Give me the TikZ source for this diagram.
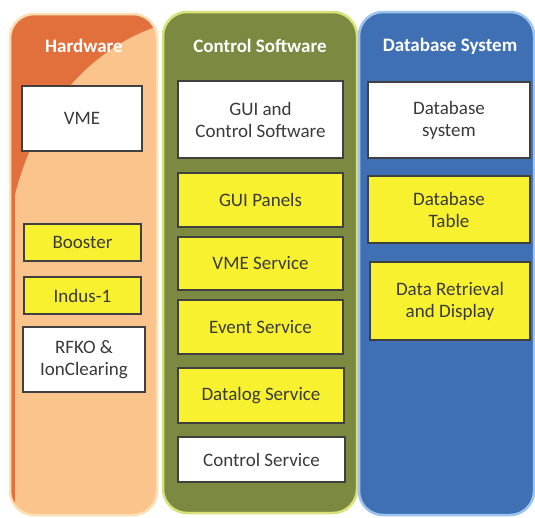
\documentclass[tikz,border=0pt]{standalone}
\usepackage{fontspec}
\setmainfont{Carlito}
\definecolor{hwdark}{HTML}{E2703C}
\definecolor{hwlight}{HTML}{FBC48C}
\definecolor{hwedge}{HTML}{FCE0B4}
\definecolor{csfill}{HTML}{7B8A40}
\definecolor{csedge}{HTML}{D9E27A}
\definecolor{dbfill}{HTML}{4070B4}
\definecolor{dbedge}{HTML}{9CC4EE}
\definecolor{boxyellow}{HTML}{F7F130}
\definecolor{boxtext}{HTML}{3A3A3A}

\begin{document}
\begin{tikzpicture}[x=1pt, y=-1pt,
        colpanel/.style=
            {
                rounded corners = 24pt,
                line width = 2.5pt
            },
        header/.style=
            {
                text = white,
                font = \fontsize{19}{22}\selectfont\bfseries
            },
        whitebox/.style=
            {
                rectangle,
                draw = black!75,
                line width = 1.2pt,
                fill = white,
                text = boxtext,
                inner sep = 0pt,
                align = center,
                font = \fontsize{19}{22}\selectfont
            },
        yellowbox/.style=
            {
                whitebox,
                fill = boxyellow
            }
    ]

    \useasboundingbox (0,0) rectangle (535,517);
    \fill[white] (0,0) rectangle (535,517);

    % hardware column
    \fill[hwdark, colpanel] (10,14) rectangle (157,515);
    \begin{scope}[rounded corners = 24pt]
        \clip (10,14) rectangle (157,515);
        \fill[hwlight, sharp corners] (162,25) .. controls (105,42) and (40,95) .. (15,195) -- (15,520) -- (162,520) -- cycle;
    \end{scope}
    \draw[hwedge, colpanel] (10,14) rectangle (157,515);

    % control software column
    \draw[csedge, fill = csfill, colpanel] (163,12) rectangle (357,513);

    % database column
    \draw[dbedge, fill = dbfill, colpanel] (359,12) rectangle (534,515);

    \draw (84,46) node[header] (hwhead) {Hardware};
    \draw (260,46) node[header] (cshead) {Control Software};
    \draw (450,46) node[header] (dbhead) {Database System};

    \draw (82,118.5) node[whitebox, minimum width = 120pt, minimum height = 65pt] (vme) {VME};
    \draw (82.5,242.5) node[yellowbox, minimum width = 117pt, minimum height = 37pt] (booster) {Booster};
    \draw (82.5,295.5) node[yellowbox, minimum width = 117pt, minimum height = 37pt] (indus) {Indus-1};
    \draw (84,359.5) node[whitebox, minimum width = 122pt, minimum height = 65pt] (rfko) {RFKO \&\\IonClearing};

    \draw (260.5,119.5) node[whitebox, minimum width = 165pt, minimum height = 77pt] (guictl) {GUI and\\Control Software};
    \draw (260.5,200) node[yellowbox, minimum width = 165pt, minimum height = 54pt] (panels) {GUI Panels};
    \draw (260.5,263.5) node[yellowbox, minimum width = 165pt, minimum height = 53pt] (vmesvc) {VME Service};
    \draw (260.5,327) node[yellowbox, minimum width = 165pt, minimum height = 54pt] (eventsvc) {Event Service};
    \draw (261,395.5) node[yellowbox, minimum width = 166pt, minimum height = 55pt] (datalog) {Datalog Service};
    \draw (261.5,459.5) node[whitebox, minimum width = 167pt, minimum height = 45pt] (ctlsvc) {Control Service};

    \draw (449,120) node[whitebox, minimum width = 162pt, minimum height = 76pt] (dbsys) {Database\\system};
    \draw (449,209.5) node[yellowbox, minimum width = 162pt, minimum height = 67pt] (dbtable) {Database\\Table};
    \draw (450,301) node[yellowbox, minimum width = 160pt, minimum height = 78pt] (retrieval) {Data Retrieval\\and Display};

\end{tikzpicture}
\end{document}
